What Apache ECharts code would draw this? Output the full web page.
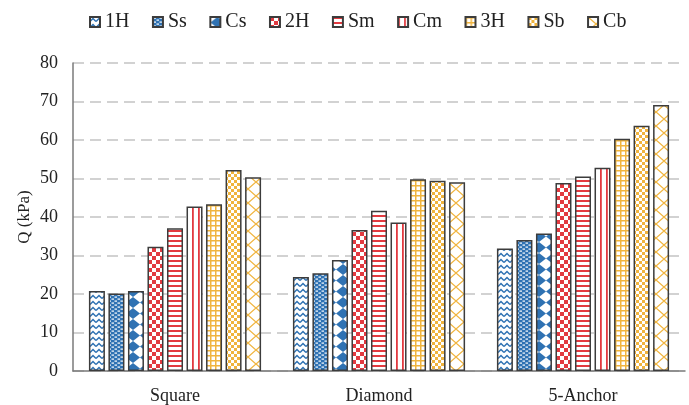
<!DOCTYPE html>
<html>
<head>
<meta charset="utf-8">
<script src="https://cdn.jsdelivr.net/npm/echarts@6/dist/echarts.min.js"></script>
<style>
  html, body { margin: 0; padding: 0; background: #fff; }
  #chart { width: 689px; height: 405px; }
</style>
</head>
<body>
<div id="chart"></div>
<script>
// Anchor shapes along the x axis
const categories = ['Square', 'Diamond', '5-Anchor'];

// Measured Q (kPa) per anchor type for each configuration
const q1H = [20.8, 24.4, 31.8];
const qSs = [20.1, 25.4, 34.0];
const qCs = [20.8, 28.8, 35.7];
const q2H = [32.3, 36.6, 48.8];
const qSm = [37.1, 41.6, 50.5];
const qCm = [42.7, 38.6, 52.8];
const q3H = [43.3, 49.8, 60.3];
const qSb = [52.2, 49.4, 63.7];
const qCb = [50.3, 49.0, 69.1];

const seriesNames = ['1H', 'Ss', 'Cs', '2H', 'Sm', 'Cm', '3H', 'Sb', 'Cb'];
const seriesValues = [q1H, qSs, qCs, q2H, qSm, qCm, q3H, qSb, qCb];

const BLUE = '#2f72b3';
const RED = '#e23a40';
const GOLD = '#f0b43e';

// Build a repeating fill tile on a small canvas
function tile(w, h, draw) {
  const c = document.createElement('canvas');
  c.width = w; c.height = h;
  const g = c.getContext('2d');
  g.fillStyle = '#ffffff';
  g.fillRect(0, 0, w, h);
  draw(g);
  return { image: c, repeat: 'repeat' };
}

const fills = {
  '1H': tile(6, 6, g => {
    g.strokeStyle = BLUE; g.lineWidth = 1.5;
    g.beginPath(); g.moveTo(0, 4.5); g.lineTo(3, 1.5); g.lineTo(6, 4.5); g.stroke();
  }),
  'Ss': tile(6, 4, g => {
    g.fillStyle = BLUE; g.fillRect(0, 0, 6, 4);
    g.fillStyle = '#ffffff';
    g.fillRect(0.5, 0.5, 2.5, 1.2);
    g.fillRect(3.5, 2.5, 2.5, 1.2);
  }),
  'Cs': tile(14, 11, g => {
    g.fillStyle = BLUE;
    g.beginPath(); g.moveTo(7, 0); g.lineTo(14, 5.5); g.lineTo(7, 11); g.lineTo(0, 5.5); g.closePath(); g.fill();
  }),
  '2H': tile(8, 8, g => {
    g.fillStyle = RED; g.fillRect(0, 0, 4, 4); g.fillRect(4, 4, 4, 4);
  }),
  'Sm': tile(1, 5, g => {
    g.fillStyle = RED; g.fillRect(0, 0, 1, 2);
  }),
  'Cm': tile(6, 1, g => {
    g.fillStyle = RED; g.fillRect(0, 0, 1.8, 1);
  }),
  '3H': tile(5, 5, g => {
    g.fillStyle = GOLD; g.fillRect(0, 0, 5, 1.5); g.fillRect(0, 0, 1.5, 5);
  }),
  'Sb': tile(6, 6, g => {
    g.fillStyle = GOLD; g.fillRect(0, 0, 3, 3); g.fillRect(3, 3, 3, 3);
  }),
  'Cb': tile(16, 14, g => {
    g.strokeStyle = GOLD; g.lineWidth = 1.3;
    g.beginPath(); g.moveTo(0, 0); g.lineTo(16, 14); g.moveTo(16, 0); g.lineTo(0, 14); g.stroke();
  })
};

const FONT = '"Liberation Serif", "Times New Roman", serif';

const chart = echarts.init(document.getElementById('chart'), null, { renderer: 'canvas' });

chart.setOption({
  animation: false,
  backgroundColor: '#ffffff',
  textStyle: { fontFamily: FONT, color: '#222' },
  legend: {
    top: 7,
    left: 84,
    icon: 'rect',
    itemWidth: 10,
    itemHeight: 10,
    itemGap: 22.5,
    itemTextGap: 5,
    textStyle: { fontFamily: FONT, fontSize: 20, color: '#222' },
    data: seriesNames
  },
  grid: { left: 73, right: 4, top: 63, bottom: 34, containLabel: false },
  xAxis: {
    type: 'category',
    data: categories,
    axisLine: { lineStyle: { color: '#7a7a7a', width: 1.5 } },
    axisTick: { show: false },
    axisLabel: { fontFamily: FONT, fontSize: 18, color: '#222', margin: 16 }
  },
  yAxis: {
    type: 'value',
    min: 0, max: 80, interval: 10,
    name: 'Q (kPa)',
    nameLocation: 'middle',
    nameGap: 40,
    nameMoveOverlap: false,
    nameTextStyle: { fontFamily: FONT, fontSize: 17, color: '#222' },
    axisLine: { show: true, lineStyle: { color: '#7a7a7a', width: 1.5 } },
    axisTick: { show: false },
    axisLabel: { fontFamily: FONT, fontSize: 18, color: '#222', margin: 15 },
    splitLine: { lineStyle: { color: '#d2d2d2', width: 2, type: [11, 6] } }
  },
  series: seriesNames.map((name, i) => ({
    name,
    type: 'bar',
    data: seriesValues[i],
    barWidth: 16,
    barGap: '22%',
    itemStyle: { color: fills[name], borderColor: '#3c3c3c', borderWidth: 1.5 }
  }))
});
</script>
</body>
</html>
